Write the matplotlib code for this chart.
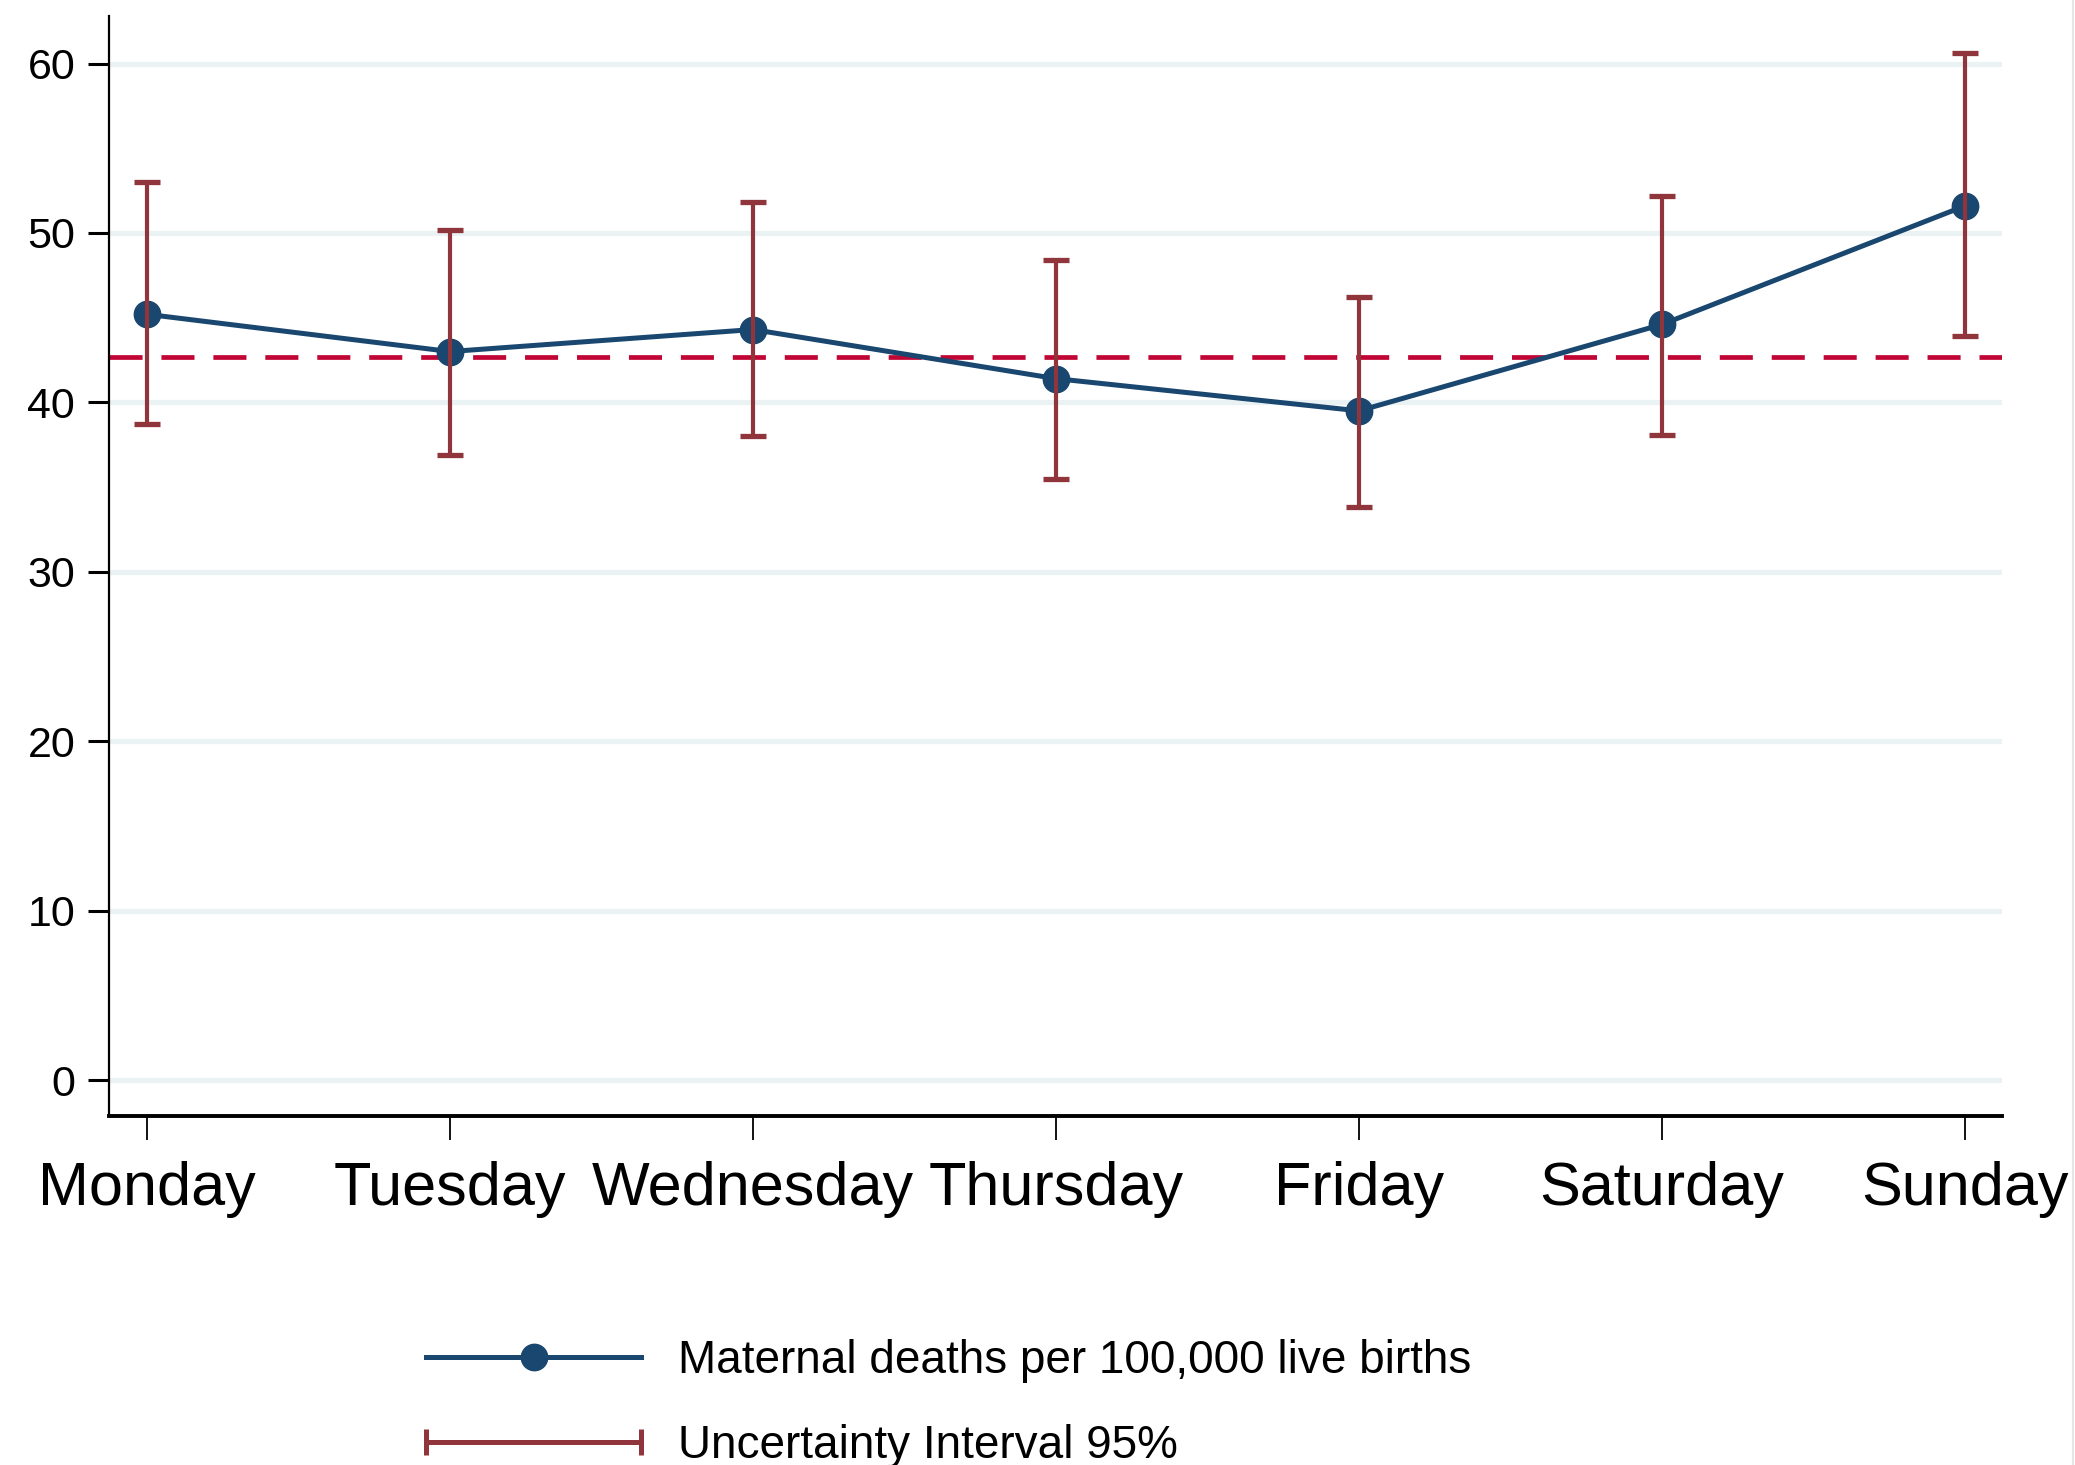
import matplotlib
matplotlib.use("Agg")
import matplotlib.pyplot as plt
from matplotlib.lines import Line2D
from matplotlib.legend_handler import HandlerLine2D

# maternal deaths per 100,000 live births by day of the week
days = ["Monday", "Tuesday", "Wednesday", "Thursday", "Friday", "Saturday", "Sunday"]
mmr = [45.2, 43.0, 44.3, 41.4, 39.5, 44.6, 51.6]
ui_low = [38.7, 36.9, 38.0, 35.5, 33.8, 38.1, 43.9]
ui_high = [53.0, 50.2, 51.8, 48.4, 46.2, 52.2, 60.6]
overall = 42.7
yticks = [0, 10, 20, 30, 40, 50, 60]

navy = "#1A476F"
maroon = "#90353B"
cranberry = "#C10534"
gridc = "#EAF2F3"

plt.rcParams['font.family'] = ['Liberation Sans', 'DejaVu Sans']

fig = plt.figure(figsize=(20.75, 14.65), dpi=100)
ax = fig.add_axes([0.0523, 0.2385, 0.9125, 0.7505])

x = list(range(len(days)))

for t in yticks:
    ax.axhline(t, color=gridc, lw=3.8, zorder=0)

ax.axhline(overall, color=cranberry, lw=3.4, dashes=(7, 4), zorder=2)

ax.plot(x, mmr, color=navy, lw=3.6, marker="o", markersize=19, zorder=3)

err = [[m - lo for m, lo in zip(mmr, ui_low)], [hi - m for m, hi in zip(mmr, ui_high)]]
ax.errorbar(x, mmr, yerr=err, fmt="none", ecolor=maroon, elinewidth=3.0,
            capsize=9.5, capthick=3.8, zorder=4)

ax.set_xlim(-0.127, 6.122)
ax.set_ylim(-2.1, 62.8)
ax.set_yticks(yticks)
ax.set_xticks(x)
ax.set_xticklabels(days)

for s in ["top", "right"]:
    ax.spines[s].set_visible(False)
ax.spines["left"].set_linewidth(1.6)
ax.spines["bottom"].set_linewidth(2.8)

ax.tick_params(axis="y", labelsize=31, length=15, width=2.2, pad=9)
ax.tick_params(axis="x", labelsize=44, length=17, width=1.3, pad=16)

h1 = Line2D([], [], color=navy, lw=3.6, marker="o", markersize=19)
h2 = Line2D([], [], color=maroon, lw=3.6, marker="|", markersize=19, markeredgewidth=3.6)
fig.legend([h1, h2],
           ["Maternal deaths per 100,000 live births", "Uncertainty Interval 95%"],
           handler_map={h1: HandlerLine2D(numpoints=1),
                        h2: HandlerLine2D(numpoints=2, marker_pad=0)},
           loc="center left", bbox_to_anchor=(0.2053, 0.0420),
           frameon=False, fontsize=33, handlelength=4.7, handletextpad=0.8,
           labelspacing=0.9, borderpad=0, borderaxespad=0)

# faint border on the right edge
fig.add_artist(Line2D([0.999, 0.999], [0, 1], color="#E6E6E6", lw=1.5))

fig.savefig("out.png", dpi=100)
